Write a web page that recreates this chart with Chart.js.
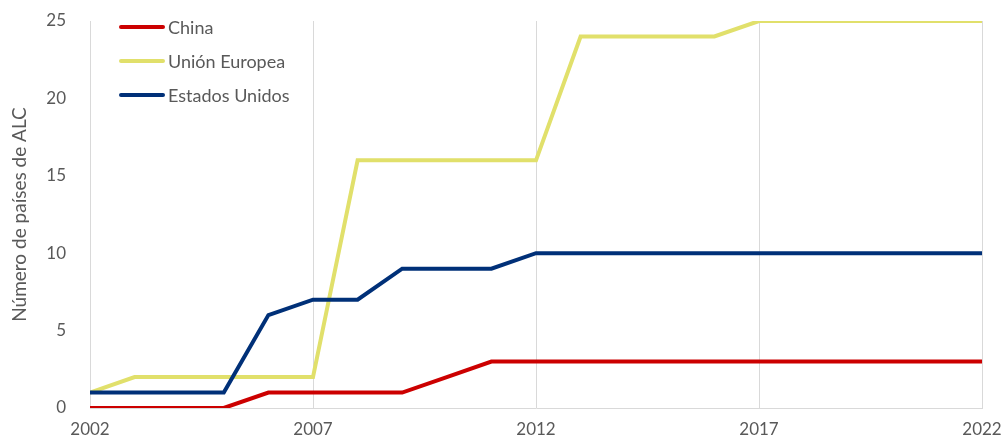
<!DOCTYPE html>
<html>
<head>
<meta charset="utf-8">
<script src="https://cdn.jsdelivr.net/npm/chart.js@4.4.1/dist/chart.umd.min.js"></script>
<style>
  html, body { margin: 0; padding: 0; background: #fff; }
  .wrap { position: relative; width: 1003px; height: 439px; }
  .legend { position: absolute; left: 119px; top: 10px; font-family: Lato, 'Open Sans', sans-serif; font-size: 18px; color: #595959; }
  .legend div { height: 34px; display: flex; align-items: center; }
  .legend span.sw { display: inline-block; width: 46px; height: 4px; border-radius: 2px; margin-right: 3px; }
</style>
</head>
<body>
<div class="wrap">
  <canvas class="grafico" width="1003" height="439"></canvas>
  <div class="legend"></div>
</div>
<script>
// años y número de países con TLC por socio
const anios = [2002, 2003, 2004, 2005, 2006, 2007, 2008, 2009, 2010, 2011, 2012,
               2013, 2014, 2015, 2016, 2017, 2018, 2019, 2020, 2021, 2022]
const china = [0, 0, 0, 0, 1, 1, 1, 1, 2, 3, 3, 3, 3, 3, 3, 3, 3, 3, 3, 3, 3]
const ue    = [1, 2, 2, 2, 2, 2, 16, 16, 16, 16, 16, 24, 24, 24, 24, 25, 25, 25, 25, 25, 25]
const eeuu  = [1, 1, 1, 1, 6, 7, 7, 9, 9, 9, 10, 10, 10, 10, 10, 10, 10, 10, 10, 10, 10]
const nombres = ['China', 'Unión Europea', 'Estados Unidos']
const colores = ['#CC0000', '#E1E06B', '#003078']

const puntos = serie => serie.map((v, i) => ({ x: anios[i], y: v }))
const series = [china, ue, eeuu]

const fuente = { family: 'Lato', size: 17 }

const grafico = document.querySelector('.grafico');
new Chart(grafico, {
    type: 'line',
    data: {
        datasets: series.map((s, i) => ({
            label: nombres[i],
            data: puntos(s),
            borderColor: colores[i],
            backgroundColor: colores[i],
            borderWidth: 4,
            pointRadius: 0,
            tension: 0,
            order: 2 - i
        }))
    },
    options: {
        responsive: false,
        animation: false,
        layout: { padding: { top: 21, right: 0, bottom: 0, left: 0 } },
        plugins: {
            legend: { display: false },
            tooltip: { enabled: false }
        },
        scales: {
            x: {
                type: 'linear',
                min: 2002, max: 2022,
                grid: { color: '#d9d9d9', drawTicks: false, lineWidth: 1 },
                border: { display: true, color: '#d9d9d9' },
                ticks: {
                    stepSize: 5,
                    padding: 11,
                    color: '#595959',
                    font: fuente,
                    callback: v => String(v),
                    maxRotation: 0
                },
                afterFit: s => { s.height = 31; s.paddingLeft = 0; s.paddingRight = 21 }
            },
            y: {
                min: 0, max: 25,
                grid: { display: false },
                border: { display: true, color: '#d9d9d9' },
                ticks: {
                    stepSize: 5,
                    padding: 16,
                    color: '#595959',
                    font: fuente
                },
                title: {
                    display: true,
                    text: 'Número de países de ALC',
                    color: '#595959',
                    font: { family: 'Lato', size: 19 },
                    padding: { top: 8, bottom: 2 }
                },
                afterFit: s => { s.width = 90; s.paddingTop = 0; s.paddingBottom = 0 }
            }
        }
    }
});

// leyenda dentro del área del gráfico
const leyenda = document.querySelector('.legend');
nombres.forEach((n, i) => {
    const fila = document.createElement('div');
    fila.innerHTML = '<span class="sw" style="background:' + colores[i] + '"></span>' + n;
    leyenda.appendChild(fila);
});
</script>
</body>
</html>
